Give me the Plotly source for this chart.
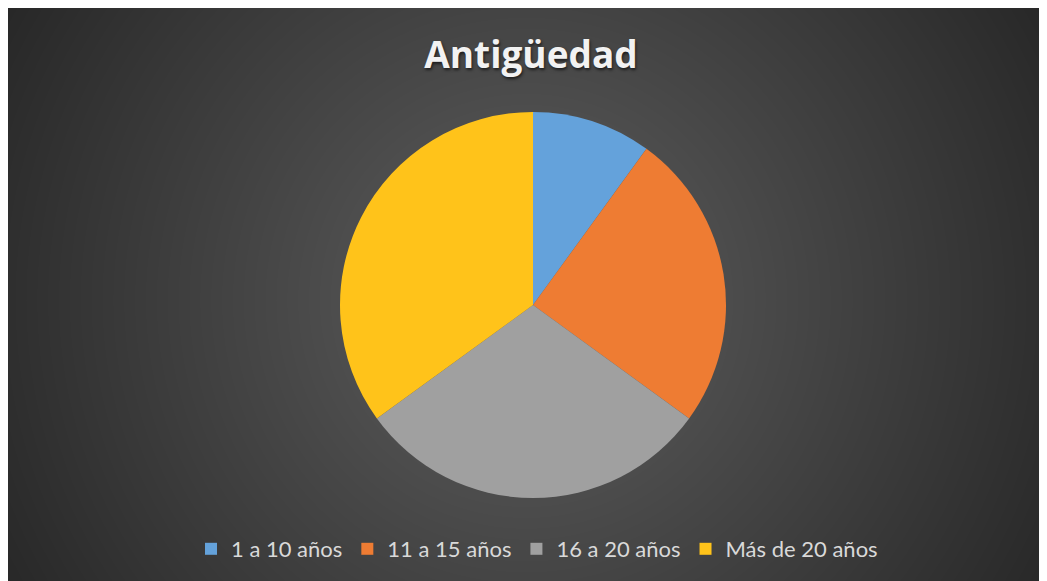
import numpy as np
import zlib, struct, base64
import plotly.graph_objects as go

# ---- data ----
categories = ["1 a 10 años", "11 a 15 años", "16 a 20 años", "Más de 20 años"]
values = [10, 25, 30, 35]
colors = ["#64A2DB", "#EE7C33", "#A0A0A0", "#FFC31A"]
title_text = "Antigüedad"

W, H = 1047, 581
OFF = 8  # page body margin offset of the plot div


def gradient_png(w, h, cx, cy):
    yy, xx = np.mgrid[0:h, 0:w].astype(float)
    d = np.sqrt((xx - cx) ** 2 + (yy - cy) ** 2)
    v = np.clip(95 - 0.092 * d, 38, 255).astype(np.uint8)
    arr = np.stack([v, v, v], axis=-1)
    raw = b"".join(b"\x00" + row.tobytes() for row in arr)

    def chunk(t, data):
        return (struct.pack(">I", len(data)) + t + data
                + struct.pack(">I", zlib.crc32(t + data) & 0xFFFFFFFF))

    png = (b"\x89PNG\r\n\x1a\n"
           + chunk(b"IHDR", struct.pack(">IIBBBBB", w, h, 8, 2, 0, 0, 0))
           + chunk(b"IDAT", zlib.compress(raw, 9))
           + chunk(b"IEND", b""))
    return "data:image/png;base64," + base64.b64encode(png).decode()


bw, bh = W, H
bg = gradient_png(bw, bh, 526 - OFF, 300 - OFF)

cx, cy, r = 533 - OFF, 305 - OFF, 193

fig = go.Figure(go.Pie(
    labels=categories,
    values=values,
    sort=False,
    direction="clockwise",
    rotation=0,
    textinfo="none",
    marker=dict(colors=colors, line=dict(width=0)),
    domain=dict(x=[(cx - r) / W, (cx + r) / W],
                y=[(H - cy - r) / H, (H - cy + r) / H]),
))

fig.update_layout(
    width=W, height=H,
    margin=dict(l=0, r=0, t=0, b=0),
    paper_bgcolor="#2B2B2B",
    plot_bgcolor="#2B2B2B",
    images=[dict(source=bg, xref="paper", yref="paper",
                 x=0, y=1, sizex=1, sizey=1,
                 xanchor="left", yanchor="top", sizing="stretch",
                 layer="below")],
    title=dict(text=title_text, x=(531 - OFF) / W, xanchor="center",
               y=1 - (55 - OFF) / H, yanchor="middle",
               font=dict(family="Open Sans", size=37, weight="bold",
                         color="#F2F2F2",
                         shadow="1px 2px 3px rgba(0,0,0,0.6)")),
    showlegend=True,
    legend=dict(orientation="h", x=(537 - OFF) / W, xanchor="center",
                y=(H - (549 - OFF)) / H, yanchor="middle",
                font=dict(family="Lato", size=22, color="#D9D9D9"),
                bgcolor="rgba(0,0,0,0)", itemwidth=30,
                traceorder="normal"),
)

fig.write_html("out.html")
